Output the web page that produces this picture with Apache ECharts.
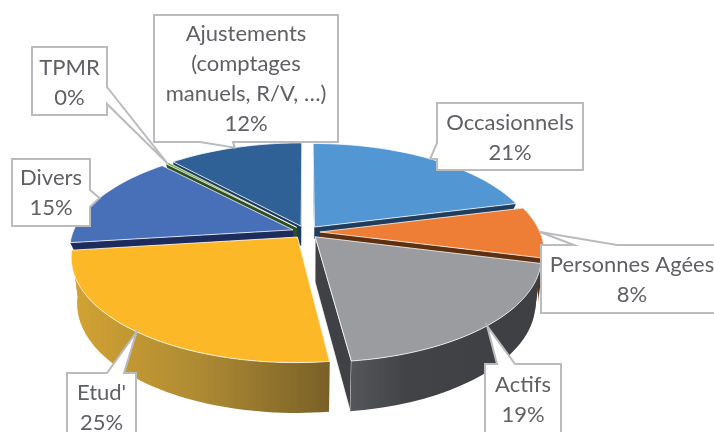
<!DOCTYPE html>
<html>
<head>
<meta charset="utf-8">
<script src="https://cdn.jsdelivr.net/npm/echarts@6/dist/echarts.min.js"></script>
<style>
	html, body { margin: 0; padding: 0; background: #fff; }
	#container { width: 714px; height: 432px; overflow: hidden; }
</style>
</head>
<body>
<div id="container"></div>
<script>
// data, clockwise from 12 o'clock
var categories = ['Occasionnels', 'Personnes Agées', 'Actifs', "Etud'", 'Divers', 'TPMR', 'Ajustements\n(comptages\nmanuels, R/V, …)'];
var shares = [21, 8, 19, 25, 15, 0.3, 11.7];

// colours of each slice: top, wall
var topColors = ['#5296d3', '#ee7d36', '#9b9ca0', '#fdb827', '#4870b8', '#70ad47', '#2f6096'];
var wallColors = ['#1f3d5e', '#5e3010', '#404145', '#b08a33', '#1d2c5c', '#2f4f22', '#1c3a5c'];
// how far the wall goes down, and which slices show their rim
var wallDepths = [12, 12, 45, 45, 12, 12, 20];
var rimDepths = [0, 45, 45, 45, 0, 0, 0];
// back to front
var drawOrder = [6, 5, 0, 4, 1, 3, 2];

// label boxes: left, top, right, bottom, then where the pointer leaves the box
var boxes = [
	{ box: [437, 103, 583, 170], side: 'left', from: 143, to: 159, textY: 138 },
	{ box: [541, 245, 740, 313], side: 'top', from: 574, to: 617, textX: 632, textY: 280 },
	{ box: [485, 364, 561, 450], side: 'top', from: 497, to: 515, textY: 400 },
	{ box: [67, 373, 136, 450], side: 'top', from: 107, to: 124, textY: 408 },
	{ box: [12, 159, 90, 226], side: 'right', from: 190, to: 207, textY: 193 },
	{ box: [32, 47, 107, 115], side: 'right', from: 87, to: 104, textY: 83 },
	{ box: [154, 15, 338, 142], side: 'bottom', from: 200, to: 233, textY: 79 }
];

// pie projection
var hubX = 306, hubY = 232, radiusX = 220, radiusY = 100.5;
var tilt = 0.183, explode = 0.063;

var total = shares.reduce(function(a, b) { return a + b; }, 0);
var starts = [];
var acc = 0;
shares.forEach(function(v) {
	starts.push(acc / total * Math.PI * 2);
	acc += v;
});

function angles(i) {
	return [starts[i], starts[i] + shares[i] / total * Math.PI * 2];
}

// ground position of a point on slice i (r = 0 hub, r = 1 rim) -> screen
function project(i, r, a) {
	var ang = angles(i);
	var mid = (ang[0] + ang[1]) / 2;
	var u = r * Math.sin(a) + explode * Math.sin(mid);
	var v = -r * Math.cos(a) - explode * Math.cos(mid);
	var s = 1 / (1 - tilt * v);
	return { x: hubX + radiusX * u * s, y: hubY + radiusY * v * s, s: s };
}

function lower(p, depth) {
	return [hubX + (p.x - hubX) * 0.975, p.y + depth * (1 + 0.5 * (p.s - 1))];
}

function rimPoints(i) {
	var ang = angles(i);
	var pts = [];
	var n = Math.max(2, Math.ceil((ang[1] - ang[0]) / 0.03));
	for (var k = 0; k <= n; k++) {
		pts.push(project(i, 1, ang[0] + (ang[1] - ang[0]) * k / n));
	}
	return pts;
}

function polygon(points, fill, stroke, width) {
	return {
		type: 'polygon',
		shape: { points: points },
		style: { fill: fill, stroke: stroke || null, lineWidth: width || 0 }
	};
}

function rimFill(i) {
	// rim gets darker towards the front
	if (i === 3) {
		return new echarts.graphic.LinearGradient(0, 0, 1, 0, [
			{ offset: 0, color: '#d3a332' }, { offset: 0.5, color: '#ad8a33' }, { offset: 1, color: '#7a6028' }
		]);
	}
	if (i === 2) {
		return new echarts.graphic.LinearGradient(0, 0, 1, 0, [
			{ offset: 0, color: '#55565a' }, { offset: 0.3, color: '#424347' }, { offset: 1, color: '#3e3f43' }
		]);
	}
	return wallColors[i];
}

function renderSlice(params, api) {
	var i = drawOrder[api.value(0)];
	var hub = project(i, 0, 0);
	var rim = rimPoints(i);
	var first = rim[0], last = rim[rim.length - 1];
	var edge = 'rgba(255,255,255,0.75)';
	var children = [];

	// the two cut faces
	var d = wallDepths[i];
	children.push(polygon([[hub.x, hub.y], [first.x, first.y], lower(first, d), lower(hub, d)], wallColors[i]));
	children.push(polygon([[hub.x, hub.y], [last.x, last.y], lower(last, d), lower(hub, d)], wallColors[i], i === 2 ? edge : null, 1));

	// outer rim
	if (rimDepths[i] > 0) {
		var pts = rim.map(function(p) { return [p.x, p.y]; });
		for (var k = rim.length - 1; k >= 0; k--) {
			pts.push(lower(rim[k], rimDepths[i]));
		}
		children.push(polygon(pts, rimFill(i)));
	}

	// top face
	var top = [[hub.x, hub.y]].concat(rim.map(function(p) { return [p.x, p.y]; }));
	children.push(polygon(top, topColors[i], edge, 1));

	return { type: 'group', children: children };
}

function renderLabel(params, api) {
	var i = api.value(0);
	var b = boxes[i];
	var ang = angles(i);
	var tip = project(i, 1, (ang[0] + ang[1]) / 2);
	var l = b.box[0], t = b.box[1], r = b.box[2], bt = b.box[3];
	var tp = [tip.x, tip.y];
	var pts;
	if (b.side === 'left') {
		pts = [[l, t], [r, t], [r, bt], [l, bt], [l, b.to], tp, [l, b.from]];
	} else if (b.side === 'top') {
		pts = [[l, t], [b.from, t], tp, [b.to, t], [r, t], [r, bt], [l, bt]];
	} else if (b.side === 'right') {
		pts = [[l, t], [r, t], [r, b.from], tp, [r, b.to], [r, bt], [l, bt]];
	} else {
		pts = [[l, t], [r, t], [r, bt], [b.to, bt], tp, [b.from, bt], [l, bt]];
	}
	return {
		type: 'group',
		children: [
			polygon(pts, '#fff', '#b9bbbe', 2),
			{
				type: 'text',
				style: {
					text: categories[i] + '\n' + Math.round(shares[i]) + '%',
					x: b.textX || (l + r) / 2,
					y: b.textY,
					align: 'center',
					verticalAlign: 'middle',
					fill: '#5f6165',
					font: '22px Lato',
					lineHeight: 30
				}
			}
		]
	};
}

var myChart = echarts.init(document.getElementById('container'), null, { renderer: 'canvas' });
var option = {
	animation: false,
	backgroundColor: '#fff',
	series: [{
		type: 'custom',
		coordinateSystem: 'none',
		silent: true,
		renderItem: renderSlice,
		data: drawOrder.map(function(v, i) { return [i]; })
	}, {
		type: 'custom',
		coordinateSystem: 'none',
		silent: true,
		z: 5,
		renderItem: renderLabel,
		data: categories.map(function(v, i) { return [i]; })
	}]
};
myChart.setOption(option);
</script>
</body>
</html>
